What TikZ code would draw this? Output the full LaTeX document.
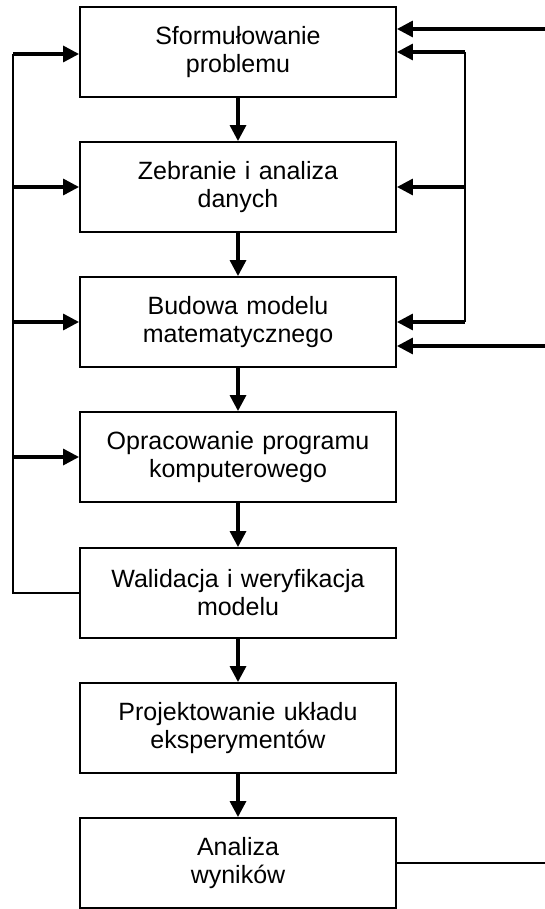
\documentclass[tikz,border=0pt]{standalone}
\usepackage{fontspec}
\setmainfont{Liberation Sans}
\usetikzlibrary{arrows.meta}
\begin{document}
\begin{tikzpicture}[x=1pt,y=-1pt,
  stepbox/.style={draw, line width=1.9pt, minimum width=316pt, minimum height=90pt,
    inner sep=0pt, align=center, text width=300pt,
    font=\fontsize{25pt}{28pt}\selectfont},
  arr/.style={line width=3.3pt, -{Triangle[length=16pt,width=16pt]}},
  feed/.style={line width=1.8pt}]
\useasboundingbox (0,0) rectangle (545,909);

% process steps
\node[stepbox] (b1) at (238,52)  {Sformułowanie\\problemu};
\node[stepbox] (b2) at (238,187) {Zebranie i analiza\\danych};
\node[stepbox] (b3) at (238,322) {Budowa modelu\\matematycznego};
\node[stepbox] (b4) at (238,457) {Opracowanie programu\\komputerowego};
\node[stepbox] (b5) at (238,593) {Walidacja i weryfikacja\\modelu};
\node[stepbox] (b6) at (238,728) {Projektowanie układu\\eksperymentów};
\node[stepbox] (b7) at (238,863) {Analiza\\wyników};

% main flow
\draw[arr] (b1) -- (b2);
\draw[arr] (b2) -- (b3);
\draw[arr] (b3) -- (b4);
\draw[arr] (b4) -- (b5);
\draw[arr] (b5) -- (b6);
\draw[arr] (b6) -- (b7);

% feedback from validation on the left
\coordinate (lt) at (13,54);
\draw[feed] (b5.west) -| (lt);
\draw[arr] (lt) -- (b1.west |- lt);
\draw[arr] (b2.west -| lt) -- (b2.west);
\draw[arr] (b3.west -| lt) -- (b3.west);
\draw[arr] (b4.west -| lt) -- (b4.west);

% loop on the right
\coordinate (rt) at (465,52);
\coordinate (rb) at (465,322);
\draw[feed] (rt) -- (rb);
\draw[arr] (rt) -- (b1.east |- rt);
\draw[arr] (b2.east -| rt) -- (b2.east);
\draw[arr] (rb) -- (b3.east |- rb);

% external inputs and output on the right edge
\coordinate (in1) at (545,29);
\coordinate (in3) at (545,346);
\coordinate (out7) at (545,863);
\draw[arr] (in1) -- (b1.east |- in1);
\draw[arr] (in3) -- (b3.east |- in3);
\draw[feed] (b7.east) -- (out7);
\end{tikzpicture}
\end{document}
